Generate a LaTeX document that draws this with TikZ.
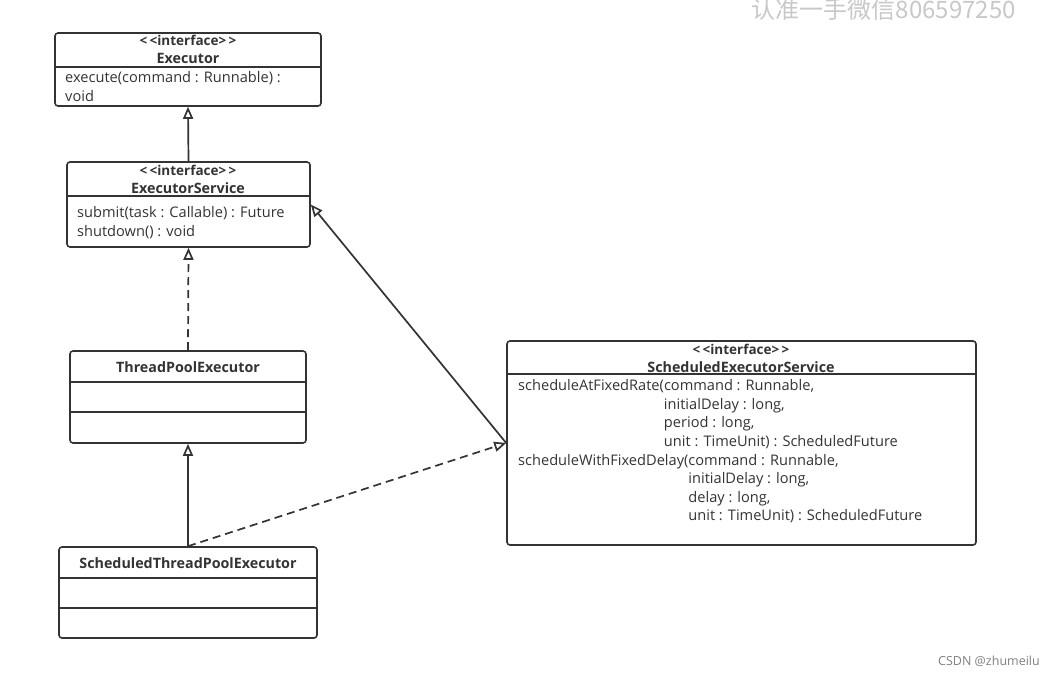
\documentclass[tikz,border=0pt]{standalone}
\usepackage{fontspec}
\setmainfont{Open Sans}
\newfontfamily\cjk{Noto Sans CJK SC}
\usetikzlibrary{arrows.meta}
\definecolor{umlgray}{HTML}{333333}
\definecolor{markgray}{HTML}{C8C8C8}
\tikzstyle{classbox} = [draw=umlgray, line width=1.6pt, rounded corners=3pt, inner sep=0pt]
\tikzstyle{divider} = [draw=umlgray, line width=1.6pt]
\tikzstyle{stereo} = [inner sep=0pt, text=umlgray, font=\fontsize{13.5}{15}\selectfont\bfseries]
\tikzstyle{classname} = [inner sep=0pt, text=umlgray, font=\fontsize{14.3}{16}\selectfont\bfseries]
\tikzstyle{members} = [inner sep=0pt, anchor=north west, align=left, text=umlgray, font=\fontsize{14.6}{18.6}\selectfont]
\tikzstyle{inherit} = [draw=umlgray, line width=1.7pt, -{Triangle[open, length=12pt, width=10pt]}]
\tikzstyle{realize} = [inherit, dash pattern=on 8pt off 5pt]

\begin{document}
\begin{tikzpicture}[x=1pt, y=-1pt]
  \useasboundingbox (0,0) rectangle (1055,674);

  % INTERFACES
  % Executor
  \node[classbox, minimum width=266pt, minimum height=73pt] (exe) at (188,69.5) {};
  \node[stereo] (exest) at (188,40) {<\,<interface>\,>};
  \node[classname] (exenm) at (188,58) {Executor};
  \draw[divider] (55,67) -- (321,67);
  \node[members] (exeops) at (65,71.5) {execute(command : Runnable) :\\void};

  % ExecutorService
  \node[classbox, minimum width=243pt, minimum height=85pt] (es) at (188.5,204.5) {};
  \node[stereo] (esst) at (188,170) {<\,<interface>\,>};
  \node[classname] (esnm) at (188,188) {ExecutorService};
  \draw[divider] (67,196) -- (310,196);
  \node[members] (esops) at (77,206.5) {submit(task : Callable) : Future\\shutdown() : void};

  % ScheduledExecutorService
  \node[classbox, minimum width=469pt, minimum height=204pt] (ses) at (741.5,443) {};
  \node[stereo] (sesst) at (741,349) {<\,<interface>\,>};
  \node[classname] (sesnm) at (741,367) {ScheduledExecutorService};
  \draw[divider] (507,374) -- (976,374);
  \node[members] (sesops) at (518,379.5) {%
    scheduleAtFixedRate(command : Runnable,\\
    \hphantom{scheduleAtFixedRate(}initialDelay : long,\\
    \hphantom{scheduleAtFixedRate(}period : long,\\
    \hphantom{scheduleAtFixedRate(}unit : TimeUnit) : ScheduledFuture\\
    scheduleWithFixedDelay(command : Runnable,\\
    \hphantom{scheduleWithFixedDelay(}initialDelay : long,\\
    \hphantom{scheduleWithFixedDelay(}delay : long,\\
    \hphantom{scheduleWithFixedDelay(}unit : TimeUnit) : ScheduledFuture};

  % CLASSES
  % ThreadPoolExecutor
  \node[classbox, minimum width=236pt, minimum height=92pt] (tpe) at (188,397) {};
  \node[classname] (tpenm) at (188,367) {ThreadPoolExecutor};
  \draw[divider] (70,382) -- (306,382);
  \draw[divider] (70,412) -- (306,412);

  % ScheduledThreadPoolExecutor
  \node[classbox, minimum width=258pt, minimum height=91pt] (stpe) at (188,592.5) {};
  \node[classname] (stpenm) at (188,563) {ScheduledThreadPoolExecutor};
  \draw[divider] (59,578) -- (317,578);
  \draw[divider] (59,608) -- (317,608);

  % RELATIONS
  \draw[inherit] (es.north) -- (exe.south);
  \draw[realize] (tpe.north) -- (es.south);
  \draw[inherit] (ses.west) -- (es.east);
  \draw[inherit] (stpe.north) -- (tpe.south);
  \draw[realize] (stpe.north) -- (ses.west);

  % WATERMARKS
  \node[anchor=base east, inner sep=0pt, text=markgray, font=\cjk\fontsize{24}{24}\selectfont] (mark) at (1016,19) {认准一手微信806597250};
  \node[anchor=base east, inner sep=0pt, text=gray, font=\fontsize{12.5}{14}\selectfont] (csdn) at (1040,665) {CSDN @zhumeilu};
\end{tikzpicture}
\end{document}
